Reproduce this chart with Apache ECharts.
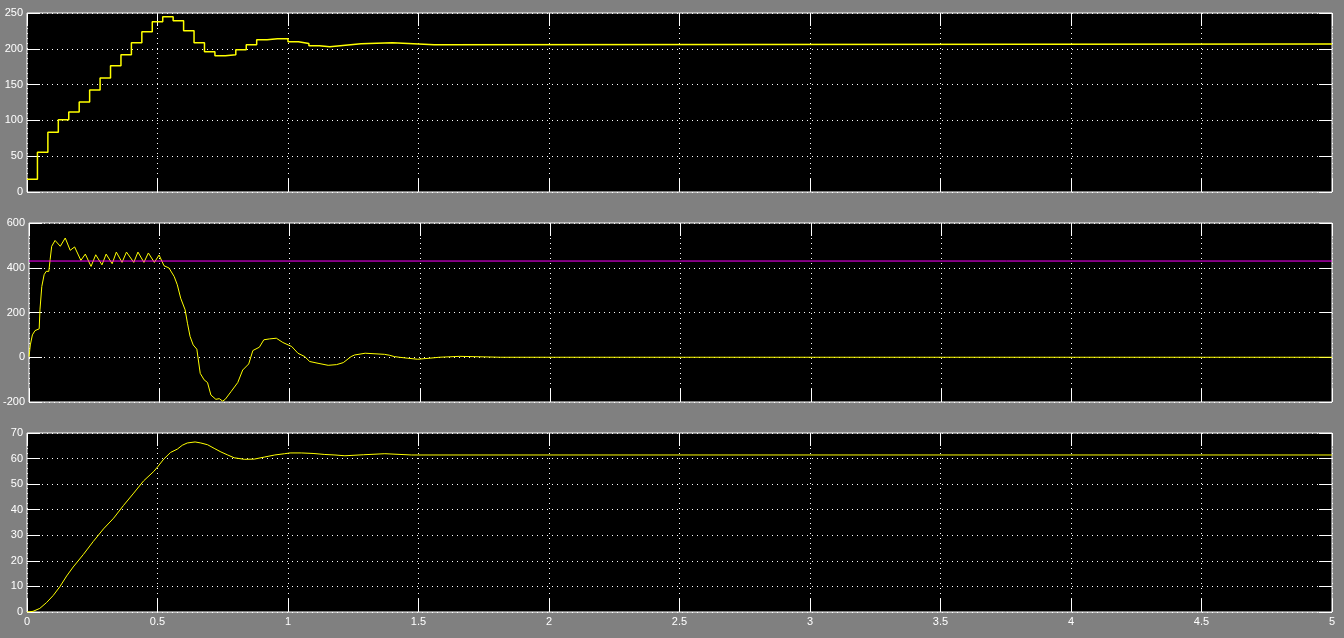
<!DOCTYPE html>
<html>
<head>
<meta charset="utf-8">
<script src="https://cdn.jsdelivr.net/npm/echarts@6/dist/echarts.min.js"></script>
<style>
html,body{margin:0;padding:0;background:#808080;}
#chart{width:1344px;height:638px;}
</style>
</head>
<body>
<div id="chart"></div>
<script>
// ---- Panel 1 (stepped signal) ----
const p1Time = [0,0.04,0.08,0.12,0.16,0.20,0.24,0.28,0.32,0.36,0.40,0.44,0.48,0.52,0.56,0.60,0.64,0.68,0.72,0.76,0.80,0.84,0.88,0.92,0.96,1.00,1.04,1.08,1.12,1.16,1.20,1.24,1.28,1.40,1.48,1.56,5];
const p1Value = [17.8,55.6,83.6,101,111.7,125.7,142.5,159.3,176.2,191.6,208.4,223.8,237.9,244.9,239.3,225.2,208.4,195.8,190.2,191.6,198.6,205.6,212.6,214,214,209.8,207.5,204.2,202.8,204.2,205.6,207,208.4,207,205.6,206.8,206.8];

// ---- Panel 2 ----
const p2Time = [0,0.005,0.013,0.023,0.039,0.042,0.049,0.058,0.066,0.076,0.081,0.087,0.10,0.12,0.139,0.158,0.175,0.199,0.216,0.238,0.256,0.28,0.296,0.319,0.335,0.357,0.374,0.402,0.418,0.441,0.458,0.481,0.499,0.518,0.537,0.557,0.569,0.582,0.599,0.608,0.618,0.63,0.644,0.657,0.672,0.685,0.698,0.717,0.73,0.743,0.753,0.775,0.801,0.82,0.843,0.859,0.884,0.901,0.923,0.949,0.974,1.008,1.032,1.058,1.077,1.109,1.148,1.18,1.206,1.236,1.249,1.255,1.29,1.364,1.383,1.402,1.421,1.451,1.491,1.539,1.574,1.653,1.81,5];
const p2Value = [3,55,100,119,127,212,316,369,384,384,436,496,522,496,533,478,493,433,461,406,458,413,461,418,470,424,470,424,470,424,466,424,457,409,399,361,324,264,212,152,93,55,36,-72,-101,-113,-169,-188,-185,-196,-188,-154,-113,-57,-30,30,45,78,82,85,66,48,18,3,-19,-27,-36,-33,-24,3,10,15,18,13,9,3,0,-4,-9,-4,0,4,0,0];
const p2RefTime = [0,5];
const p2RefValue = [430,430];

// ---- Panel 3 ----
const p3Time = [0,0.023,0.049,0.075,0.10,0.126,0.152,0.177,0.216,0.254,0.293,0.332,0.37,0.409,0.447,0.486,0.5,0.524,0.55,0.576,0.595,0.614,0.644,0.666,0.692,0.717,0.743,0.769,0.794,0.833,0.871,0.91,0.949,0.987,1.008,1.051,1.096,1.141,1.18,1.218,1.29,1.371,1.474,5];
const p3Value = [0,0.26,1.4,3.7,6.4,9.9,14.1,17.6,22.5,27.6,32.5,36.7,41.7,46.5,51.3,55.0,56.7,59.8,62.4,63.7,65.2,66.1,66.5,66.1,65.4,64.0,62.6,61.4,60.3,59.7,59.8,60.6,61.4,61.9,62.2,62.2,62.0,61.6,61.4,61.1,61.5,61.9,61.4,61.4];

// ---- Axes ticks ----
const xTicks = ['0','0.5','1','1.5','2','2.5','3','3.5','4','4.5','5'];
const yRanges = [[0,250,50],[-200,600,200],[0,70,10]];

function zip(a,b){return a.map((t,i)=>[t,b[i]]);}

const tops = [13,223,433];
const H = 179;
const grids = tops.map(t=>({left:27,width:1305,top:t,height:H,show:true,backgroundColor:'#000',borderColor:'#fff',borderWidth:1,containLabel:false}));

const labelFont = {color:'#fff',fontSize:11,fontFamily:'Liberation Sans, Arial, sans-serif'};
function tickStyle(){ return {show:true,inside:true,length:13,lineStyle:{color:'#fff',width:1}}; }
function dotted(){ return {show:true,lineStyle:{color:'#fff',width:1,type:[1,4]}}; }
function noLine(){ return {show:false,onZero:false}; }

const xAxes = [], yAxes = [];
for (let g=0; g<3; g++){
  xAxes.push({type:'value',gridIndex:g,min:0,max:5,interval:0.5,position:'bottom',
    axisLine:noLine(),axisTick:tickStyle(),splitLine:dotted(),
    axisLabel:Object.assign({show:g===2,margin:4,formatter:(v)=>xTicks[Math.round(v*2)]},labelFont)});
  xAxes.push({type:'value',gridIndex:g,min:0,max:5,interval:0.5,position:'top',
    axisLine:noLine(),axisTick:tickStyle(),splitLine:{show:false},axisLabel:{show:false}});
  const r = yRanges[g];
  yAxes.push({type:'value',gridIndex:g,min:r[0],max:r[1],interval:r[2],position:'left',
    axisLine:noLine(),axisTick:tickStyle(),splitLine:dotted(),
    axisLabel:Object.assign({show:true,margin:4},labelFont)});
  yAxes.push({type:'value',gridIndex:g,min:r[0],max:r[1],interval:r[2],position:'right',
    axisLine:noLine(),axisTick:tickStyle(),splitLine:{show:false},axisLabel:{show:false}});
}

const chart = echarts.init(document.getElementById('chart'));
chart.setOption({
  backgroundColor:'#808080',
  animation:false,
  grid:grids,
  xAxis:xAxes,
  yAxis:yAxes,
  series:[
    {type:'line',xAxisIndex:0,yAxisIndex:0,data:zip(p1Time,p1Value),step:'end',showSymbol:false,
      lineStyle:{color:'#ffff00',width:1.5},silent:true},
    {type:'line',xAxisIndex:2,yAxisIndex:2,data:zip(p2Time,p2Value),showSymbol:false,
      lineStyle:{color:'#ffff00',width:1},silent:true},
    {type:'line',xAxisIndex:2,yAxisIndex:2,data:zip(p2RefTime,p2RefValue),showSymbol:false,
      lineStyle:{color:'#ff00ff',width:1},silent:true},
    {type:'line',xAxisIndex:4,yAxisIndex:4,data:zip(p3Time,p3Value),showSymbol:false,
      lineStyle:{color:'#ffff00',width:1},silent:true}
  ]
});
</script>
</body>
</html>
